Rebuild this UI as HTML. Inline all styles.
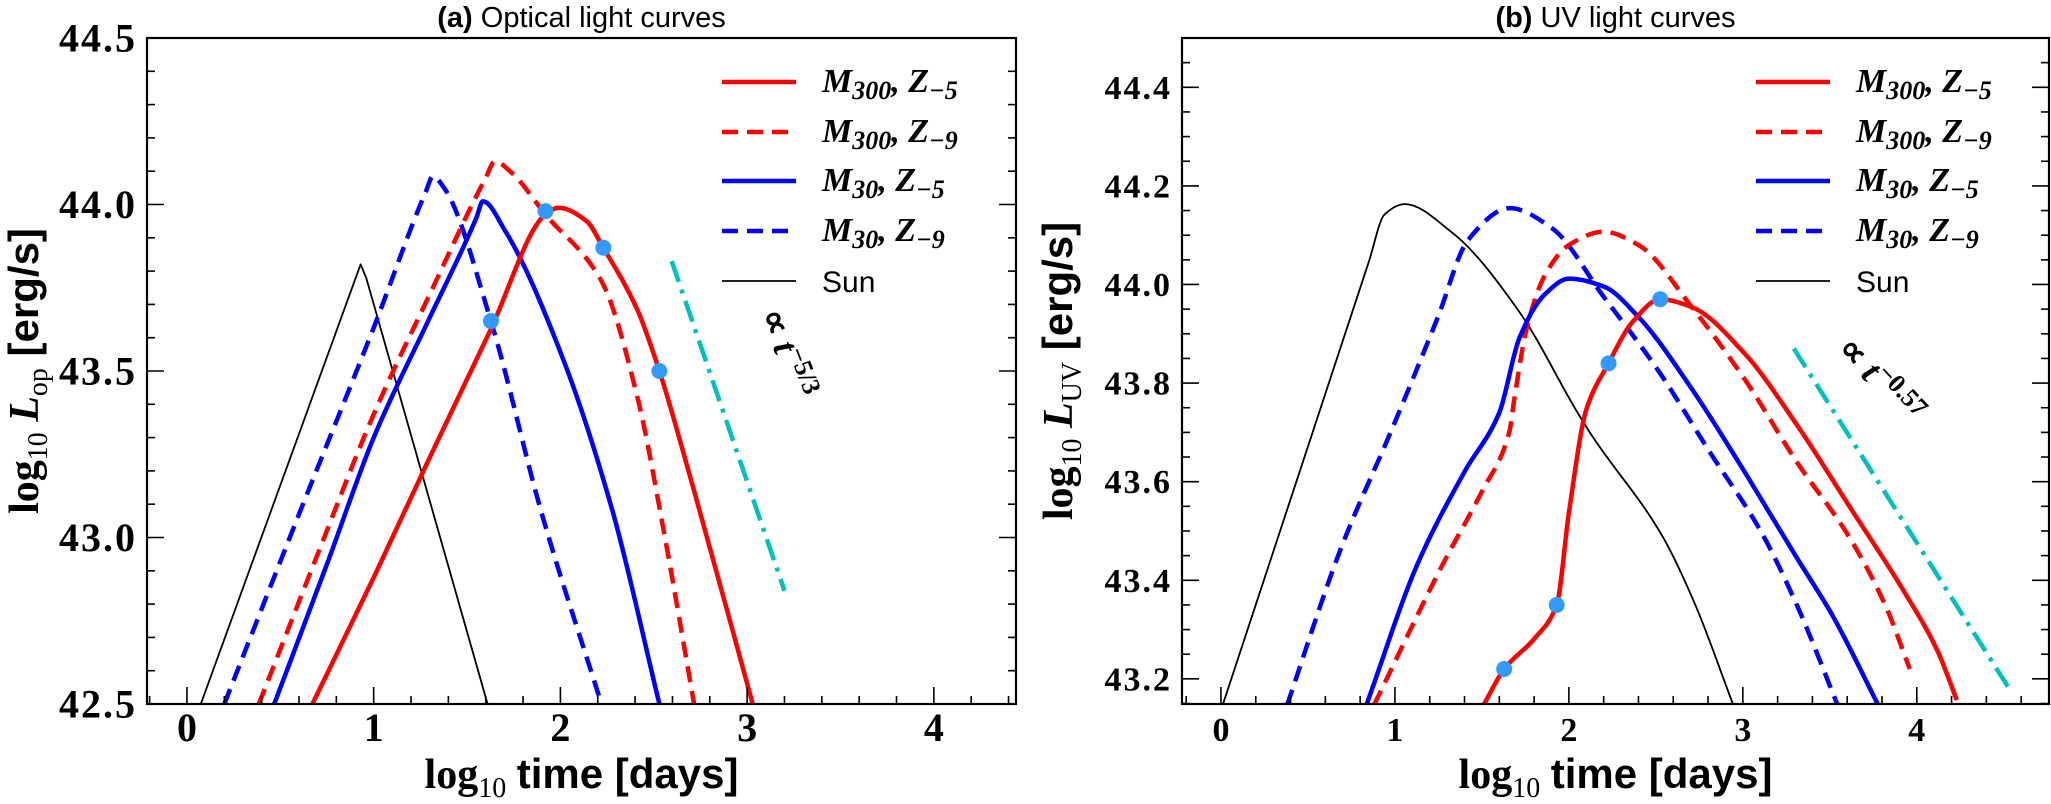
<!DOCTYPE html>
<html><head><meta charset="utf-8">
<style>
html,body{margin:0;padding:0;background:#fff;overflow:hidden;}
svg{display:block;}
.tl{font-family:"Liberation Serif",serif;font-weight:bold;}
.ss{font-family:"Liberation Sans",sans-serif;}
.leg{font-family:"Liberation Serif",serif;font-weight:bold;font-style:italic;font-size:34px;}
</style></head>
<body>
<svg id="chart" width="2051" height="804" viewBox="0 0 2051 804" xmlns="http://www.w3.org/2000/svg"></svg>
<script>
// ---- Panel (a) optical data ----
const opSunX=[0.074,0.93,0.96,1.61];
const opSunY=[42.5,43.82,43.78,42.5];
const opM30Z9X=[0.2,0.6,1.0,1.28,1.317,1.377,1.628,1.896,2.22];
const opM30Z9Y=[42.5,43.07,43.63,44.04,44.085,44.05,43.65,43.08,42.5];
const opM300Z9X=[0.385,0.7,1.0,1.3,1.6,1.65,1.73,1.92,2.22,2.415,2.55,2.716];
const opM300Z9Y=[42.5,42.95,43.37,43.73,44.08,44.13,44.1,43.97,43.77,43.415,43.03,42.5];
const opM30Z5X=[0.467,0.75,1.0,1.3,1.55,1.585,1.705,2.005,2.279,2.53];
const opM30Z5Y=[42.5,42.92,43.3,43.66,43.96,44.01,43.92,43.55,43.08,42.5];
const opM300Z5X=[0.672,1.0,1.3,1.623,1.92,1.99,2.14,2.23,2.415,2.53,2.716,3.03];
const opM300Z5Y=[42.5,42.88,43.24,43.62,43.97,43.99,43.95,43.87,43.68,43.5,43.14,42.5];
const opDotX=[1.628,1.92,2.23,2.53];
const opDotY=[43.65,43.98,43.87,43.5];
const opSlopeX=[2.596,3.2];
const opSlopeY=[43.83,42.84];
const opXTicks=[0,1,2,3,4];
const opYTicks=[42.5,43.0,43.5,44.0,44.5];
const opYTickLabels=["42.5","43.0","43.5","44.0","44.5"];
// ---- Panel (b) UV data ----
const uvSunX=[0.01,0.5,0.85,0.94,1.056,1.33,1.716,2.04,2.12,2.545,2.727,2.945];
const uvSunY=[43.147,43.671,44.046,44.142,44.163,44.105,43.944,43.746,43.7,43.485,43.35,43.147];
const uvM30Z9X=[0.38,0.69,0.98,1.246,1.42,1.66,1.9,2.2,2.505,2.81,3.11,3.31,3.545];
const uvM30Z9Y=[43.147,43.465,43.704,43.933,44.09,44.155,44.115,43.975,43.83,43.66,43.495,43.35,43.147];
const uvM300Z9X=[0.88,1.276,1.5,1.657,1.686,1.758,1.86,2.0,2.2,2.4,2.707,3.01,3.31,3.616,3.818,3.96];
const uvM300Z9Y=[43.147,43.433,43.58,43.7,43.767,43.912,44.017,44.08,44.107,44.08,43.954,43.808,43.64,43.485,43.35,43.22];
const uvM30Z5X=[0.836,1.13,1.4,1.6,1.716,1.862,2.0,2.2,2.4,2.707,3.01,3.313,3.515,3.778];
const uvM30Z5Y=[43.147,43.433,43.62,43.74,43.892,43.98,44.012,43.996,43.934,43.788,43.62,43.444,43.329,43.147];
const uvM300Z5X=[1.51,1.628,1.803,1.93,2.0,2.1,2.228,2.364,2.525,2.707,3.01,3.313,3.616,3.92,4.12,4.23];
const uvM300Z5Y=[43.147,43.22,43.282,43.35,43.537,43.746,43.84,43.923,43.97,43.954,43.86,43.714,43.548,43.381,43.256,43.157];
const uvDotX=[1.628,1.93,2.228,2.525];
const uvDotY=[43.22,43.35,43.84,43.97];
const uvSlopeX=[3.293,4.535];
const uvSlopeY=[43.87,43.178];
const uvXTicks=[0,1,2,3,4];
const uvYTicks=[43.2,43.4,43.6,43.8,44.0,44.2,44.4];
const uvYTickLabels=["43.2","43.4","43.6","43.8","44.0","44.2","44.4"];

const NS="http://www.w3.org/2000/svg";
const svg=document.getElementById('chart');
function mk(tag,attrs,parent){const e=document.createElementNS(NS,tag);for(const k in attrs)e.setAttribute(k,attrs[k]);(parent||svg).appendChild(e);return e;}

function monoPath(pts){
  const n=pts.length;
  if(n<3)return 'M'+pts.map(p=>p[0].toFixed(1)+','+p[1].toFixed(1)).join('L');
  const dx=[],s=[];
  for(let i=0;i<n-1;i++){dx.push(pts[i+1][0]-pts[i][0]);s.push((pts[i+1][1]-pts[i][1])/dx[i]);}
  const m=[s[0]];
  for(let i=1;i<n-1;i++){
    if(s[i-1]*s[i]<=0)m.push(0);
    else{const w1=2*dx[i]+dx[i-1],w2=dx[i]+2*dx[i-1];m.push((w1+w2)/(w1/s[i-1]+w2/s[i]));}
  }
  m.push(s[n-2]);
  let d='M'+pts[0][0].toFixed(1)+','+pts[0][1].toFixed(1);
  for(let i=0;i<n-1;i++){
    const h=dx[i]/3;
    d+='C'+(pts[i][0]+h).toFixed(1)+','+(pts[i][1]+m[i]*h).toFixed(1)+' '+(pts[i+1][0]-h).toFixed(1)+','+(pts[i+1][1]-m[i+1]*h).toFixed(1)+' '+pts[i+1][0].toFixed(1)+','+pts[i+1][1].toFixed(1);
  }
  return d;
}

function panel(cfg){
  const g=mk('g',{});
  
  
  const L=cfg.left,R=cfg.right,T=38,B=704;
  const sx=v=>L+(v-cfg.xmin)/(cfg.xmax-cfg.xmin)*(R-L);
  const sy=v=>B-(v-cfg.ymin)/(cfg.ymax-cfg.ymin)*(B-T);
  const clip='clip-'+cfg.name;
  const cp=mk('clipPath',{id:clip},g);
  mk('rect',{x:L,y:T,width:R-L,height:B-T},cp);
  const plot=mk('g',{'clip-path':'url(#'+clip+')'},g);
  function line(xs,ys,color,w,dash,nm,smooth){
    const pts=xs.map((x,i)=>[sx(x),sy(ys[i])]);
    const d=smooth?monoPath(pts):'M'+pts.map(p=>p[0].toFixed(1)+','+p[1].toFixed(1)).join('L');
    const p=mk('path',{d:d,fill:'none',stroke:color,'stroke-width':w,'stroke-linejoin':'round'},plot);
    if(dash)p.setAttribute('stroke-dasharray',dash);
    
    
  }
  line(cfg.sun[0],cfg.sun[1],'#000',1.8,null,'sun-curve',cfg.smoothSun);
  line(cfg.m30z9[0],cfg.m30z9[1],'#0000ff',4.5,'16,9','m30-z9-curve',true);
  line(cfg.m300z9[0],cfg.m300z9[1],'#ff0000',4.5,'16,9','m300-z9-curve',true);
  line(cfg.m30z5[0],cfg.m30z5[1],'#0000ff',4.5,null,'m30-z5-curve',true);
  line(cfg.m300z5[0],cfg.m300z5[1],'#ff0000',4.5,null,'m300-z5-curve',true);
  line(cfg.slope[0],cfg.slope[1],'#00bfbf',4.5,'22,8,4,8','power-law-guide',false);
  cfg.dots[0].forEach((x,i)=>{
    const c=mk('circle',{cx:sx(x),cy:sy(cfg.dots[1][i]),r:8,fill:'#3399ff'},plot);
    
    
  });
  for(let k=Math.ceil(cfg.xmin/0.2-1e-9);k*0.2<=cfg.xmax+1e-9;k++){
    const v=k*0.2;
    const major=(k%5===0);const len=major?17:8;const x=sx(v);
    mk('line',{x1:x,y1:B,x2:x,y2:B-len,stroke:'#000','stroke-width':1.6},g);
  }
  const mn=cfg.ymin_minor;
  for(let k=Math.ceil(cfg.ymin/mn-1e-9);k*mn<=cfg.ymax+1e-9;k++){
    const v=k*mn;
    const major=cfg.yticks.some(t=>Math.abs(t-v)<1e-6);const len=major?17:8;const y=sy(v);
    if(y<T-1||y>B+1)continue;
    mk('line',{x1:L,y1:y,x2:L+len,y2:y,stroke:'#000','stroke-width':1.6},g);
    mk('line',{x1:R,y1:y,x2:R-len,y2:y,stroke:'#000','stroke-width':1.6},g);
  }
  mk('rect',{x:L,y:T,width:R-L,height:B-T,fill:'none',stroke:'#000','stroke-width':2.2},g);
  cfg.xticks.forEach(v=>{
    const t=mk('text',{x:sx(v),y:B+37,'text-anchor':'middle','font-size':cfg.fs,class:'tl'},g);
    t.textContent=String(v);
    
    
  });
  cfg.yticks.forEach((v,i)=>{
    const t=mk('text',{x:L-10,y:sy(v)+cfg.fs*0.34,'text-anchor':'end','font-size':cfg.fs,class:'tl','letter-spacing':cfg.ls},g);
    t.textContent=cfg.ylabels[i];
    
    
  });
  const xt=mk('text',{x:(L+R)/2,y:788,'text-anchor':'middle','font-size':42,class:'tl'},g);
  xt.innerHTML='log<tspan font-weight="normal" font-size="28" dy="9">10</tspan><tspan dy="-9"> </tspan><tspan font-family="Liberation Sans, sans-serif"> time [days]</tspan>';
  
  
  const yt=mk('text',{x:0,y:0,'text-anchor':'middle','font-size':42,class:'tl',transform:'translate('+cfg.ylx+','+((T+B)/2)+') rotate(-90)'},g);
  yt.innerHTML='log<tspan font-weight="normal" font-size="28" dy="9">10</tspan><tspan dy="-9">  </tspan><tspan font-style="italic">L</tspan><tspan font-size="28" font-weight="normal" dy="9">'+cfg.lsub+'</tspan><tspan dy="-9" font-family="Liberation Sans, sans-serif"> [erg/s]</tspan>';
  
  
  const tt=mk('text',{x:(L+R)/2,y:27,'text-anchor':'middle','font-size':29,class:'ss'},g);
  tt.innerHTML='<tspan font-weight="bold">'+cfg.tag+'</tspan> '+cfg.title;
  
  
  const lg=mk('g',{},g);
  
  
  const items=[['#ff0000',null,4.5,'M','300','Z','−5'],['#ff0000','16,9',4.5,'M','300','Z','−9'],['#0000ff',null,4.5,'M','30','Z','−5'],['#0000ff','16,9',4.5,'M','30','Z','−9'],['#000',null,1.8,null]];
  const rows=[82,132,181,231,281];
  items.forEach((it,i)=>{
    const y=rows[i];
    const ln=mk('line',{x1:cfg.legX,y1:y,x2:cfg.legX+74,y2:y,stroke:it[0],'stroke-width':it[2]},lg);
    if(it[1])ln.setAttribute('stroke-dasharray',it[1]);
    let t;
    if(it[3]){
      t=mk('text',{x:cfg.legX+100,y:y+10,class:'leg'},lg);
      t.innerHTML='M<tspan font-size="26" dy="7">'+it[4]+'</tspan><tspan dy="-7">, Z</tspan><tspan font-size="26" dy="7">'+it[6]+'</tspan>';
    }else{
      t=mk('text',{x:cfg.legX+100,y:y+11,class:'ss','font-size':30},lg);
      t.textContent='Sun';
    }
    
    
  });
  const an=mk('text',{x:0,y:0,'font-size':36,class:'tl',transform:'translate('+cfg.ann[0]+','+cfg.ann[1]+') rotate('+cfg.ann[2]+')'},g);
  an.innerHTML='∝ <tspan font-style="italic">t</tspan><tspan font-size="26" dy="-13">'+cfg.ann[3]+'</tspan>';
  
  
}

panel({name:'optical-panel',left:147,right:1016,xmin:-0.214,xmax:4.44,ymin:42.5,ymax:44.5,ymin_minor:0.1,
  yticks:opYTicks,ylabels:opYTickLabels,xticks:opXTicks,fs:40,ls:2,ylx:38,lsub:'op',smoothSun:false,
  sun:[opSunX,opSunY],m30z9:[opM30Z9X,opM30Z9Y],m300z9:[opM300Z9X,opM300Z9Y],m30z5:[opM30Z5X,opM30Z5Y],m300z5:[opM300Z5X,opM300Z5Y],
  dots:[opDotX,opDotY],slope:[opSlopeX,opSlopeY],tag:'(a)',title:'Optical light curves',legX:722,ann:[760,314,69,'−5/3']});
panel({name:'uv-panel',left:1182,right:2049,xmin:-0.224,xmax:4.76,ymin:43.149,ymax:44.5,ymin_minor:0.05,
  yticks:uvYTicks,ylabels:uvYTickLabels,xticks:uvXTicks,fs:34,ls:2,ylx:1072,lsub:'UV',smoothSun:true,
  sun:[uvSunX,uvSunY],m30z9:[uvM30Z9X,uvM30Z9Y],m300z9:[uvM300Z9X,uvM300Z9Y],m30z5:[uvM30Z5X,uvM30Z5Y],m300z5:[uvM300Z5X,uvM300Z5Y],
  dots:[uvDotX,uvDotY],slope:[uvSlopeX,uvSlopeY],tag:'(b)',title:'UV light curves',legX:1756,ann:[1836,350,47,'−0.57']});
</script>
</body></html>
